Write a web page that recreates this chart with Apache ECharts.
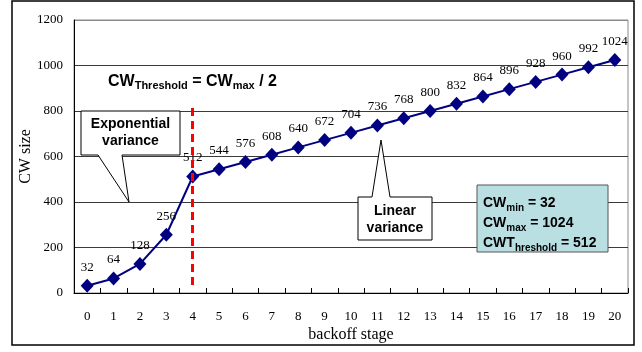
<!DOCTYPE html>
<html>
<head>
<meta charset="utf-8">
<script src="https://cdn.jsdelivr.net/npm/echarts@6/dist/echarts.min.js"></script>
<style>
html,body{margin:0;padding:0;background:#fff;}
#chart{width:642px;height:352px;}
</style>
</head>
<body>
<div id="chart"></div>
<script>
// ---- data ----
const stages = ['0','1','2','3','4','5','6','7','8','9','10','11','12','13','14','15','16','17','18','19','20'];
const cwSize = [32,64,128,256,512,544,576,608,640,672,704,736,768,800,832,864,896,928,960,992,1024];
const yTicks = [0,200,400,600,800,1000,1200];
const thresholdStage = '4';
const thresholdSpan = [35, 825];

const serif = 'Liberation Serif';
const sans = 'Liberation Sans';

const chart = echarts.init(document.getElementById('chart'), null, {renderer:'canvas'});

const gridColors = yTicks.map((v,i)=> i===yTicks.length-1 ? '#8a8a8a' : '#3a3a3a');

const option = {
  animation:false,
  backgroundColor:'#fff',
  grid:{left:74, right:14, top:20, bottom:59, show:true, borderColor:'#8a8a8a', borderWidth:1, backgroundColor:'transparent'},
  xAxis:{
    type:'category', data:stages, boundaryGap:true,
    name:'backoff stage', nameLocation:'middle', nameGap:34, nameMoveOverlap:false,
    nameTextStyle:{fontFamily:serif, fontSize:16, color:'#000'},
    axisLine:{show:true, lineStyle:{color:'#000', width:1}},
    axisTick:{show:true, inside:true, length:5, lineStyle:{color:'#000'}},
    axisLabel:{fontFamily:serif, fontSize:13, color:'#000', margin:17},
    splitLine:{show:false}
  },
  yAxis:{
    type:'value', min:yTicks[0], max:yTicks[yTicks.length-1], interval:200,
    name:'CW size', nameLocation:'middle', nameGap:40, nameMoveOverlap:false,
    nameTextStyle:{fontFamily:serif, fontSize:16, color:'#000'},
    axisLine:{show:true, lineStyle:{color:'#000', width:1}},
    axisTick:{show:false},
    axisLabel:{fontFamily:serif, fontSize:13, color:'#000', margin:11, formatter:(v)=>String(v)},
    splitLine:{show:true, lineStyle:{color:gridColors, width:1}}
  },
  series:[{
    type:'line', data:cwSize,
    symbol:'diamond', symbolSize:[13,14],
    lineStyle:{color:'#000080', width:2},
    itemStyle:{color:'#000080'},
    label:{show:true, position:'top', distance:5, fontFamily:serif, fontSize:13, color:'#000'},
    z:5,
    markLine:{
      silent:true, symbol:['none','none'],
      label:{show:false},
      lineStyle:{color:'#ff0000', width:3, type:[8,5]},
      data:[[{coord:[thresholdStage, thresholdSpan[0]]},{coord:[thresholdStage, thresholdSpan[1]]}]],
      z:6
    }
  }],
  graphic:[
    {type:'rect', shape:{x:12, y:1, width:622, height:344}, style:{fill:'none', stroke:'#000', lineWidth:1.5}, z:100, silent:true},
    // Exponential variance callout
    {type:'polygon', shape:{points:[[81,111],[180,111],[180,155],[122,155],[129,202],[98,155],[81,155]]},
      style:{fill:'#fff', stroke:'#000', lineWidth:1}, z:50},
    {type:'text', x:130.5, y:133, style:{text:'Exponential\nvariance', fontFamily:sans, fontWeight:'bold', fontSize:14, lineHeight:17, fill:'#000', align:'center', verticalAlign:'middle'}, z:51},
    // Linear variance callout
    {type:'polygon', shape:{points:[[358,197],[372,197],[381,140],[390,197],[432,197],[432,240],[358,240]]},
      style:{fill:'#fff', stroke:'#000', lineWidth:1}, z:50},
    {type:'text', x:395, y:219.5, style:{text:'Linear\nvariance', fontFamily:sans, fontWeight:'bold', fontSize:14, lineHeight:17, fill:'#000', align:'center', verticalAlign:'middle'}, z:51},
    // Title formula
    {type:'text', x:108, y:71.5, style:{
      text:'{a|CW}{s|Threshold}{a| = CW}{s|max}{a| / 2}',
      verticalAlign:'top', align:'left',
      rich:{
        a:{fontFamily:sans, fontWeight:'bold', fontSize:16, lineHeight:20, fill:'#000'},
        s:{fontFamily:sans, fontWeight:'bold', fontSize:11, verticalAlign:'bottom', fill:'#000'}
      }}, z:51},
    // Parameter box
    {type:'rect', shape:{x:477, y:185, width:131, height:67}, style:{fill:'#b9dfe3', stroke:'#555', lineWidth:1}, z:50},
    {type:'text', x:483, y:193, style:{
      text:'{a|CW}{s|min}{a| = 32}\n{a|CW}{s|max}{a| = 1024}\n{a|CWT}{s|hreshold}{a| = 512}',
      verticalAlign:'top', align:'left',
      rich:{
        a:{fontFamily:sans, fontWeight:'bold', fontSize:14, lineHeight:20, fill:'#000'},
        s:{fontFamily:sans, fontWeight:'bold', fontSize:10, verticalAlign:'bottom', fill:'#000'}
      }}, z:51}
  ]
};
chart.setOption(option);
</script>
</body>
</html>
